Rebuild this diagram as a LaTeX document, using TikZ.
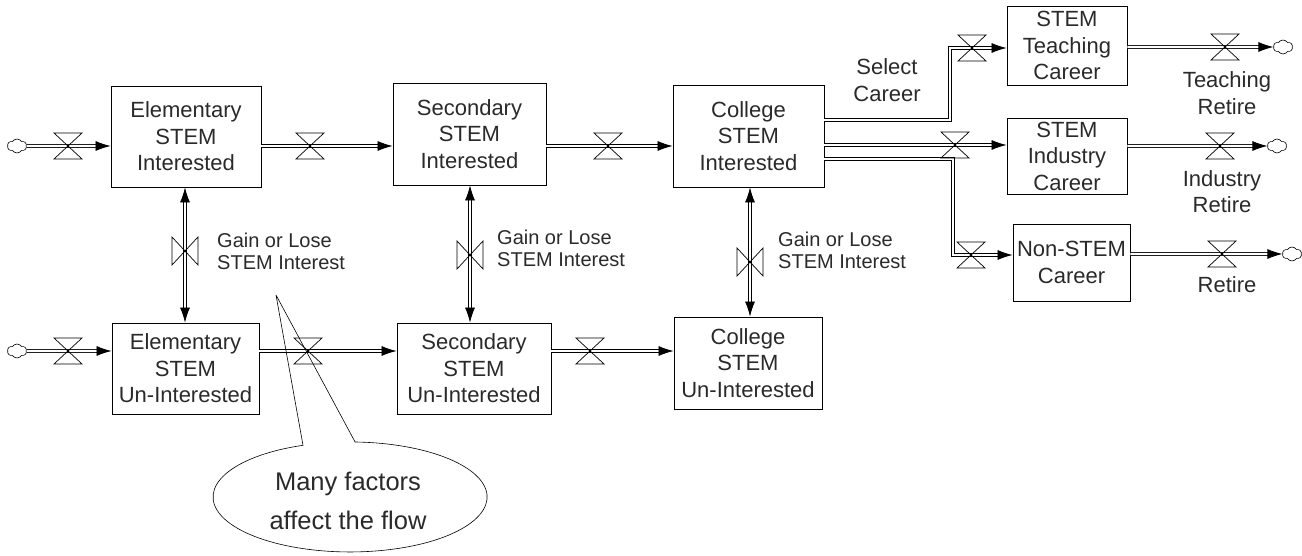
\documentclass[tikz,border=0pt]{standalone}
\usepackage{fontspec}
\setmainfont{Liberation Sans}
\usetikzlibrary{arrows.meta,shapes.symbols,calc}
\definecolor{txt}{HTML}{2A2A2A}
\newcommand\boxfont{\fontsize{22}{26.5}\selectfont}
\newcommand\gainfont{\fontsize{20}{22}\selectfont}
\newcommand\notefont{\fontsize{25.5}{39}\selectfont}
\tikzset{
  hv/.pic={\draw[line width=0.7pt] (-14,-13) -- (14,-13) -- (-14,13) -- (14,13) -- cycle;
           \fill (0,0) circle (1.3pt);},
  vv/.pic={\draw[line width=0.7pt] (-13,-14) -- (-13,14) -- (13,-14) -- (13,14) -- cycle;
           \fill (0,0) circle (1.3pt);}
}
\begin{document}
\begin{tikzpicture}[x=1pt,y=-1pt,
  stock/.style={draw, line width=0.9pt, rectangle, align=center, inner sep=0pt, font=\boxfont, text=txt},
  lbl/.style={align=center, inner sep=0pt, font=\boxfont, text=txt},
  gain/.style={align=left, anchor=west, inner sep=0pt, font=\gainfont, text=txt},
  pipe/.style={draw, double=white, double distance=2.2pt, line width=0.75pt, -{Latex[length=15pt,width=10pt]}},
  pipe2/.style={pipe, {Latex[length=15pt,width=10pt]}-{Latex[length=15pt,width=10pt]}},
  src/.style={cloud, cloud puffs=6, cloud puff arc=120, draw, line width=0.6pt, minimum width=19pt, minimum height=14pt, inner sep=0pt}
]
\useasboundingbox (0,0) rectangle (1302,556);

% stocks
\node[stock, minimum width=150pt, minimum height=101pt] (elem) at (186,136.5) {Elementary\\STEM\\Interested};
\node[stock, minimum width=153pt, minimum height=102pt] (sec) at (469.5,134) {Secondary\\STEM\\Interested};
\node[stock, minimum width=151pt, minimum height=102pt] (col) at (748.5,136) {College\\STEM\\Interested};
\node[stock, minimum width=147pt, minimum height=91pt] (elemU) at (185.5,368.5) {Elementary\\STEM\\Un-Interested};
\node[stock, minimum width=154pt, minimum height=91pt] (secU) at (474,368.5) {Secondary\\STEM\\Un-Interested};
\node[stock, minimum width=148pt, minimum height=92pt] (colU) at (748,363) {College\\STEM\\Un-Interested};
\node[stock, minimum width=120pt, minimum height=79pt] (teach) at (1067,45.5) {STEM\\Teaching\\Career};
\node[stock, minimum width=120pt, minimum height=76pt] (ind) at (1067,156) {STEM\\Industry\\Career};
\node[stock, minimum width=117pt, minimum height=77pt] (non) at (1071.5,262.5) {Non-STEM\\Career};

% clouds
\node[src] (c1) at (17,146) {};
\node[src] (c2) at (17,351) {};
\node[src] (k1) at (1283,47) {};
\node[src] (k2) at (1277,146) {};
\node[src] (k3) at (1292,254) {};

% helper coordinates
\coordinate (r1) at (0,146);
\coordinate (r2) at (0,351);
\coordinate (ta) at (950,120);
\coordinate (tb) at (950,48);
\coordinate (ia) at (955,145);
\coordinate (na) at (953,159);
\coordinate (nb) at (953,255);
\coordinate (v1) at (185,251);
\coordinate (v2) at (470,255);
\coordinate (v3) at (750,262);

% horizontal flows
\draw[pipe] (c1.east) -- (elem.west |- r1);
\draw[pipe] (elem.east |- r1) -- (sec.west |- r1);
\draw[pipe] (sec.east |- r1) -- (col.west |- r1);
\draw[pipe] (c2.east) -- (elemU.west |- r2);
\draw[pipe] (elemU.east |- r2) -- (secU.west |- r2);
\draw[pipe] (secU.east |- r2) -- (colU.west |- r2);
\draw[pipe] (col.east |- ta) -- (ta) -- (tb) -- (teach.west |- tb);
\draw[pipe] (col.east |- ia) -- (ind.west |- ia);
\draw[pipe] (col.east |- na) -- (na) -- (nb) -- (non.west |- nb);
\draw[pipe] (teach.east |- k1) -- (k1.west);
\draw[pipe] (ind.east |- k2) -- (k2.west);
\draw[pipe] (non.east |- k3) -- (k3.west);

% vertical flows
\draw[pipe2] (elem.south -| v1) -- (elemU.north -| v1);
\draw[pipe2] (sec.south -| v2) -- (secU.north -| v2);
\draw[pipe2] (col.south -| v3) -- (colU.north -| v3);

% valves
\pic at (68,146) {hv};
\pic at (310,146) {hv};
\pic at (608,146) {hv};
\pic at (68,351) {hv};
\pic at (308,351) {hv};
\pic at (590,351) {hv};
\pic at (972,48) {hv};
\pic at (955,145) {hv};
\pic at (971,255) {hv};
\pic at (1225,47) {hv};
\pic at (1220,146) {hv};
\pic at (1222,254) {hv};
\pic at (v1) {vv};
\pic at (v2) {vv};
\pic at (v3) {vv};

% labels
\node[gain] (g1) at (217,251) {Gain or Lose\\STEM Interest};
\node[gain] (g2) at (497,248) {Gain or Lose\\STEM Interest};
\node[gain] (g3) at (778,250) {Gain or Lose\\STEM Interest};
\node[lbl] (sel) at (887,80) {Select\\Career};
\node[lbl] (tr) at (1227,93) {Teaching\\Retire};
\node[lbl] (ir) at (1222,191.5) {Industry\\Retire};
\node[lbl] (rr) at (1227,285) {Retire};

% callout
\coordinate (apex) at (276,295);
\draw[line width=0.6pt] (apex) -- (303,445.3)
   arc[start angle=-110.1, end angle=-447.9, x radius=137, y radius=55] -- (apex);
\node[lbl, font=\notefont] (note) at (348,501) {Many factors\\affect the flow};
\end{tikzpicture}
\end{document}
